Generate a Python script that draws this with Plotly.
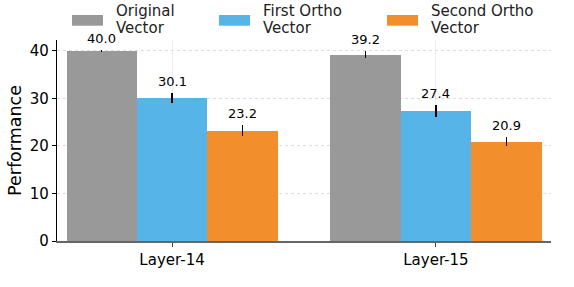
import plotly.graph_objects as go

categories = ["Layer-14", "Layer-15"]
series_names = ["Original Vector", "First Ortho Vector", "Second Ortho Vector"]
original = [40.0, 39.2]
first_ortho = [30.1, 27.4]
second_ortho = [23.2, 20.9]
original_err = [0.3, 0.7]
first_err = [1.05, 1.2]
second_err = [1.2, 0.9]
y_ticks = [0, 10, 20, 30, 40]

colors = ["#999999", "#56B4E9", "#F28E2B"]
values = [original, first_ortho, second_ortho]
errors = [original_err, first_err, second_err]

W, H = 574, 287
L, R, T, B = 57, 23, 40, 46
pw, ph = W - L - R, H - T - B

bw = 0.8 / 3
fig = go.Figure()
annotations = []
for k in range(3):
    xs = [i + (k - 1) * bw for i in range(len(categories))]
    fig.add_trace(go.Bar(
        x=xs, y=values[k], width=bw, name=series_names[k],
        marker=dict(color=colors[k], line=dict(width=0)),
        error_y=dict(type="data", array=errors[k], color="black", thickness=1.5, width=0),
        showlegend=False,
    ))
    for x, v, e in zip(xs, values[k], errors[k]):
        annotations.append(dict(
            x=x, y=v + e, xref="x", yref="y", text=f"{v:.1f}",
            showarrow=False, xanchor="center", yanchor="bottom", yshift=2,
            font=dict(size=13, color="black", family="DejaVu Sans"),
        ))

# manual legend (top row, outside the plot area)
legend_x = [72, 219, 387]
shapes = []
for k in range(3):
    x0 = legend_x[k]
    shapes.append(dict(type="rect", xref="paper", yref="paper",
                       x0=(x0 - L) / pw, x1=(x0 + 31 - L) / pw,
                       y0=(H - B - 25.7) / ph, y1=(H - B - 15) / ph,
                       fillcolor=colors[k], line=dict(width=0)))
    words = series_names[k].rsplit(" ", 1)
    for line, py in zip(words, [11, 28]):
        annotations.append(dict(xref="paper", yref="paper",
                                x=(x0 + 42 - L) / pw, y=(H - B - py) / ph,
                                xanchor="left", yanchor="middle", showarrow=False,
                                text=line, font=dict(size=15, color="#222", family="DejaVu Sans")))

fig.update_layout(
    width=W, height=H,
    margin=dict(l=L, r=R, t=T, b=B, autoexpand=False),
    paper_bgcolor="white", plot_bgcolor="white",
    font=dict(family="DejaVu Sans", color="black"),
    shapes=shapes, annotations=annotations,
    bargap=0, showlegend=False,
)
fig.update_xaxes(
    range=[-0.436, 1.436], tickvals=list(range(len(categories))), ticktext=categories,
    showgrid=True, gridcolor="#ebebeb", gridwidth=1,
    showline=True, linecolor="#666666", linewidth=2,
    ticks="outside", ticklen=4, tickcolor="#444", tickfont=dict(size=15),
    zeroline=False, automargin=False,
)
fig.update_yaxes(
    range=[0, 42.3], tickvals=y_ticks,
    showgrid=True, gridcolor="#dddddd", griddash="dot", gridwidth=1,
    showline=True, linecolor="black", linewidth=1.3,
    ticks="outside", ticklen=4, tickcolor="black", tickfont=dict(size=15),
    zeroline=False, automargin=False,
    title=dict(text="Performance", font=dict(size=17.5), standoff=3),
)
fig.write_html(
    "out.html",
    config={"displayModeBar": False},
    post_script="document.body.style.margin='0';document.body.style.padding='0';",
)
